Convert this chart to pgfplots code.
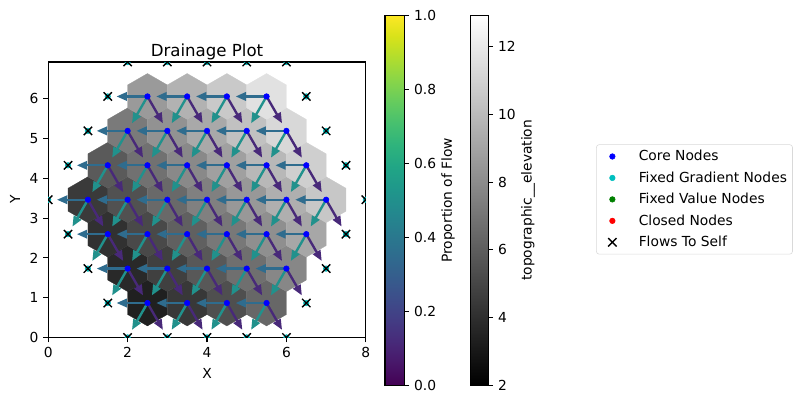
\documentclass[border=0pt]{standalone}
\usepackage{fontspec}
\setmainfont{DejaVu Sans}
\usepackage{pgfplots}
\pgfplotsset{compat=1.18}
\usepgfplotslibrary{patchplots}
\usetikzlibrary{arrows.meta}
\usepackage{pgfplotstable}

\definecolor{flowW}{HTML}{2F6C8E}
\definecolor{flowSW}{HTML}{21918C}
\definecolor{flowSE}{HTML}{482979}
\definecolor{fixedgrad}{HTML}{00BFBF}
\definecolor{fixedval}{HTML}{008000}

% cell of the hex grid, spacing 1 at 39.71 px per unit
\pgfdeclareplotmark{hexcell}{%
  \pgfpathmoveto{\pgfqpoint{0bp}{16.51bp}}%
  \pgfpathlineto{\pgfqpoint{14.3bp}{8.25bp}}%
  \pgfpathlineto{\pgfqpoint{14.3bp}{-8.25bp}}%
  \pgfpathlineto{\pgfqpoint{0bp}{-16.51bp}}%
  \pgfpathlineto{\pgfqpoint{-14.3bp}{-8.25bp}}%
  \pgfpathlineto{\pgfqpoint{-14.3bp}{8.25bp}}%
  \pgfpathclose
  \pgfusepathqfillstroke}

\pgfplotstableread{
x y z
2.5 0.866 3.366
3.5 0.866 4.366
4.5 0.866 5.366
5.5 0.866 6.366
2 1.732 3.732
3 1.732 4.732
4 1.732 5.732
5 1.732 6.732
6 1.732 7.732
1.5 2.598 4.098
2.5 2.598 5.098
3.5 2.598 6.098
4.5 2.598 7.098
5.5 2.598 8.098
6.5 2.598 9.098
1 3.464 4.464
2 3.464 5.464
3 3.464 6.464
4 3.464 7.464
5 3.464 8.464
6 3.464 9.464
7 3.464 10.464
1.5 4.330 5.830
2.5 4.330 6.830
3.5 4.330 7.830
4.5 4.330 8.830
5.5 4.330 9.830
6.5 4.330 10.830
2 5.196 7.196
3 5.196 8.196
4 5.196 9.196
5 5.196 10.196
6 5.196 11.196
2.5 6.062 8.562
3.5 6.062 9.562
4.5 6.062 10.562
5.5 6.062 11.562
}\corenodes

\pgfplotstableread{
x y
2 0
3 0
4 0
5 0
6 0
1.5 0.866
6.5 0.866
1 1.732
7 1.732
0.5 2.598
7.5 2.598
0 3.464
8 3.464
0.5 4.330
7.5 4.330
1 5.196
7 5.196
1.5 6.062
6.5 6.062
2 6.928
3 6.928
4 6.928
5 6.928
6 6.928
}\boundarynodes

\pgfplotsset{
  every axis/.append style={
    scale only axis, axis line style={line width=0.8bp},
    tick style={black, line width=0.8bp},
    major tick length=3.5bp,
    tick align=outside,
    tick label style={font=\fontsize{10}{12}\selectfont},
    label style={font=\fontsize{10}{12}\selectfont},
    /pgf/number format/assume math mode=true,
  },
  cbar/.style={
    xmin=0, xmax=1, xtick=\empty,
    ytick pos=right,
    yticklabel pos=right,
    enlargelimits=false,
    axis on top,
    ylabel near ticks,
    ylabel shift=-3bp,
  },
  % legend handle: marker 9.5bp in, text starting 26.5bp in
  lgd/.style={legend image code/.code={%
    \path[draw=none] (0bp,0bp) -- (26.5bp,0bp);
    \draw[##1] plot coordinates {(9.5bp,0bp)};}},
  flow/.style={forget plot, #1, line width=1.7bp, -{Triangle[length=7.5bp,width=6bp]}},
}

\begin{document}
\begin{tikzpicture}[x=1bp,y=1bp]
\path[use as bounding box] (0,0) rectangle (578.16,290.16);

\begin{axis}[
  name=main,
  at={(34.7bp,47.2bp)}, anchor=south west,
  width=228.7bp, height=198.3bp,
  xmin=0, xmax=8, ymin=0, ymax=6.928,
  xtick={0,2,4,6,8}, ytick={0,1,2,3,4,5,6},
  tick pos=left,
  xlabel={X}, ylabel={Y},
  xlabel shift=0.7bp,
  title={Drainage Plot},
  title style={font=\fontsize{12}{14}\selectfont, yshift=-7.7bp},
  colormap={mygray}{gray(0cm)=(0); gray(1cm)=(1)},
  point meta min=2, point meta max=12.93,
  clip marker paths=true,
  legend style={
    at={(1.725,0.701)}, anchor=north west,
    draw=black!15, rounded corners=2bp,
    font=\fontsize{10}{12}\selectfont,
    row sep=2.4bp, inner xsep=2bp, inner ysep=2bp,
  },
  legend cell align=left,
]
\addplot[forget plot, scatter, only marks, mark=hexcell, line width=0.2bp,
  point meta=explicit,
  scatter/use mapped color={draw=mapped color, fill=mapped color}]
  table[x=x, y=y, meta=z] {\corenodes};

% proportions of flow: W 0.366, SW 0.5, SE 0.134
\addplot[flow=flowW, quiver={u=-0.78, v=0}] table[x=x, y=y] {\corenodes};
\addplot[flow=flowSW, quiver={u=-0.39, v=-0.675}] table[x=x, y=y] {\corenodes};
\addplot[flow=flowSE, quiver={u=0.39, v=-0.675}] table[x=x, y=y] {\corenodes};

\addplot[only marks, lgd, mark=*, mark size=2bp, blue, mark options={draw=blue, fill=blue}]
  table[x=x, y=y] {\corenodes};
\addlegendentry{Core Nodes}
\addplot[only marks, lgd, mark=*, mark size=2bp, fixedgrad, mark options={draw=fixedgrad, fill=fixedgrad}]
  table[x=x, y=y] {\boundarynodes};
\addlegendentry{Fixed Gradient Nodes}
\addplot[only marks, lgd, mark=*, mark size=2bp, fixedval, mark options={draw=fixedval, fill=fixedval}]
  coordinates {(-5,-5)};
\addlegendentry{Fixed Value Nodes}
\addplot[only marks, lgd, mark=*, mark size=2bp, red, mark options={draw=red, fill=red}]
  coordinates {(-5,-5)};
\addlegendentry{Closed Nodes}
\addplot[only marks, lgd, mark=x, mark size=4.24bp, black, mark options={line width=1bp}]
  table[x=x, y=y] {\boundarynodes};
\addlegendentry{Flows To Self}
\end{axis}

\begin{axis}[
  cbar,
  at={(277.2bp,12.75bp)}, anchor=south west,
  width=13.9bp, height=266.4bp,
  ymin=0, ymax=1,
  ytick={0,0.2,0.4,0.6,0.8,1},
  yticklabels={0.0,0.2,0.4,0.6,0.8,1.0},
  ylabel={Proportion of Flow},
  colormap/viridis,
]
\addplot[surf, shader=interp, mesh/rows=2, mesh/cols=2, point meta=y]
  coordinates {(0,0) (1,0) (0,1) (1,1)};
\end{axis}

\begin{axis}[
  cbar,
  at={(338.6bp,12.75bp)}, anchor=south west,
  width=13bp, height=266.4bp,
  ymin=2, ymax=12.93,
  ytick={2,4,6,8,10,12},
  ylabel={topographic\_\_elevation},
  colormap={mygray}{gray(0cm)=(0); gray(1cm)=(1)},
]
\addplot[surf, shader=interp, mesh/rows=2, mesh/cols=2, point meta=y]
  coordinates {(0,2) (1,2) (0,12.93) (1,12.93)};
\end{axis}
\end{tikzpicture}
\end{document}
